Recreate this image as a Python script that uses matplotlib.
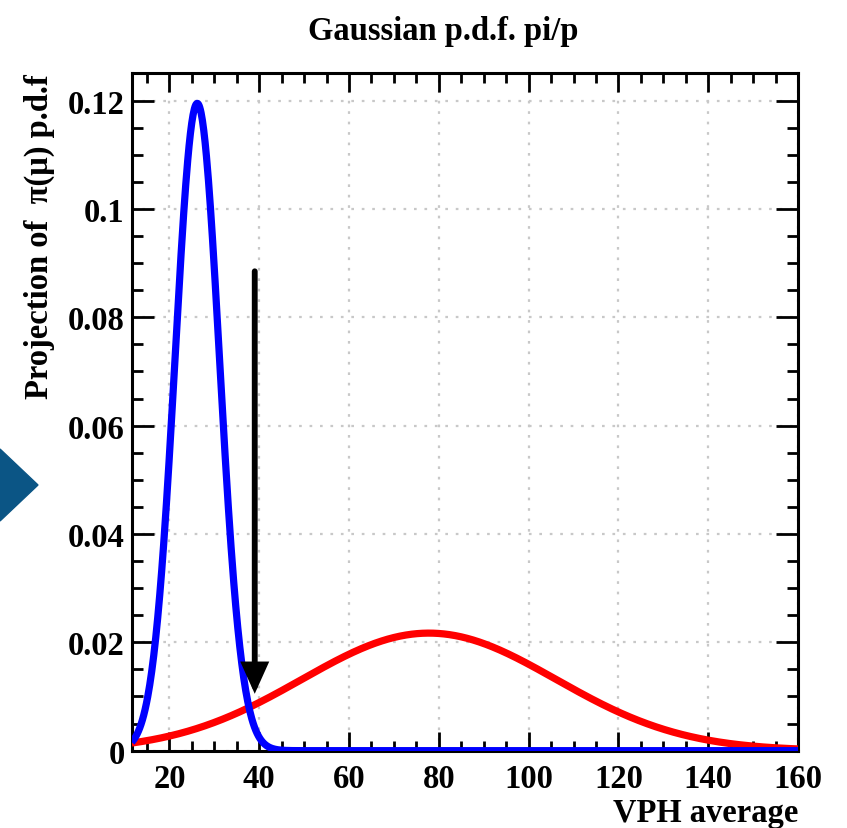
import numpy as np
import matplotlib
matplotlib.use("Agg")
import matplotlib.pyplot as plt
from matplotlib.patches import Polygon

# gaussian parameters: amplitude, mean, sigma
pi_params = [0.1195, 26.2, 4.95]
p_params = [0.0217, 77.8, 28.3]
x_range = [11.6, 160.0]
cut_x = 39.0
cut_y = [0.0885, 0.0105]

xticks = [20, 40, 60, 80, 100, 120, 140, 160]
yticks = [0, 0.02, 0.04, 0.06, 0.08, 0.1, 0.12]
ytick_labels = ["0", "0.02", "0.04", "0.06", "0.08", "0.1", "0.12"]

plt.rcParams['font.family'] = ['Liberation Serif', 'DejaVu Serif']
plt.rcParams['font.weight'] = 'bold'
fs = 23.5

def gaus(x, p):
	return p[0] * np.exp(-0.5 * ((x - p[1]) / p[2]) ** 2)

fig = plt.figure(figsize=(8.47, 8.29), dpi=100)
ax = fig.add_axes([0.1555, 0.0933, 0.9422 - 0.1555, 0.9107 - 0.0933])

xx = np.linspace(x_range[0], x_range[1], 1000)
ax.plot(xx, gaus(xx, p_params), color='#ff0000', lw=5.2, solid_capstyle='butt', zorder=3)
ax.plot(xx, gaus(xx, pi_params), color='#0000ff', lw=5.2, solid_capstyle='butt', zorder=4)

ax.annotate('', xy=(cut_x, cut_y[1]), xytext=(cut_x, cut_y[0]),
	arrowprops=dict(arrowstyle='-|>,head_length=0.8,head_width=0.36', lw=4.2,
		color='black', shrinkA=0, shrinkB=0, mutation_scale=20, joinstyle='miter'), zorder=5)

ax.set_xlim(x_range)
ax.set_ylim(0, 0.1251)
ax.set_xticks(xticks)
ax.set_xticklabels([str(t) for t in xticks])
ax.set_xticks(np.arange(15, 161, 5), minor=True)
ax.set_yticks(yticks)
ax.set_yticklabels(ytick_labels)
ax.set_yticks(np.arange(0, 0.125, 0.005), minor=True)

ax.grid(True, which='major', color='#c8c8c8', linestyle=(0, (1.2, 3.5)), lw=1.6)
ax.set_axisbelow(True)

for s in ax.spines.values():
	s.set_linewidth(2.2)
ax.tick_params(which='both', direction='in', top=True, right=True, width=2, labelsize=fs)
ax.tick_params(axis='y', which='major', length=16, pad=5)
ax.tick_params(axis='y', which='minor', length=8)
ax.tick_params(axis='x', which='major', length=14, pad=9)
ax.tick_params(axis='x', which='minor', length=7)
for lab in ax.get_xticklabels() + ax.get_yticklabels():
	lab.set_fontweight('bold')

fig.text(0.523, 0.962, "Gaussian p.d.f. pi/p", ha='center', va='center', fontsize=fs, fontweight='bold')
fig.text(0.9422, 0.019, "VPH average", ha='right', va='center', fontsize=fs, fontweight='bold')
fig.text(0.047, 0.9107, "Projection of  π(μ) p.d.f", ha='center', va='top', rotation=90,
	fontsize=fs, fontweight='bold')

# slide arrow at the left border
tri = Polygon([[0, 1 - 450 / 829], [38 / 847, 1 - 486 / 829], [0, 1 - 522 / 829]],
	closed=True, transform=fig.transFigure, color='#0b5585')
fig.patches.append(tri)

fig.savefig("out.png", dpi=100)
